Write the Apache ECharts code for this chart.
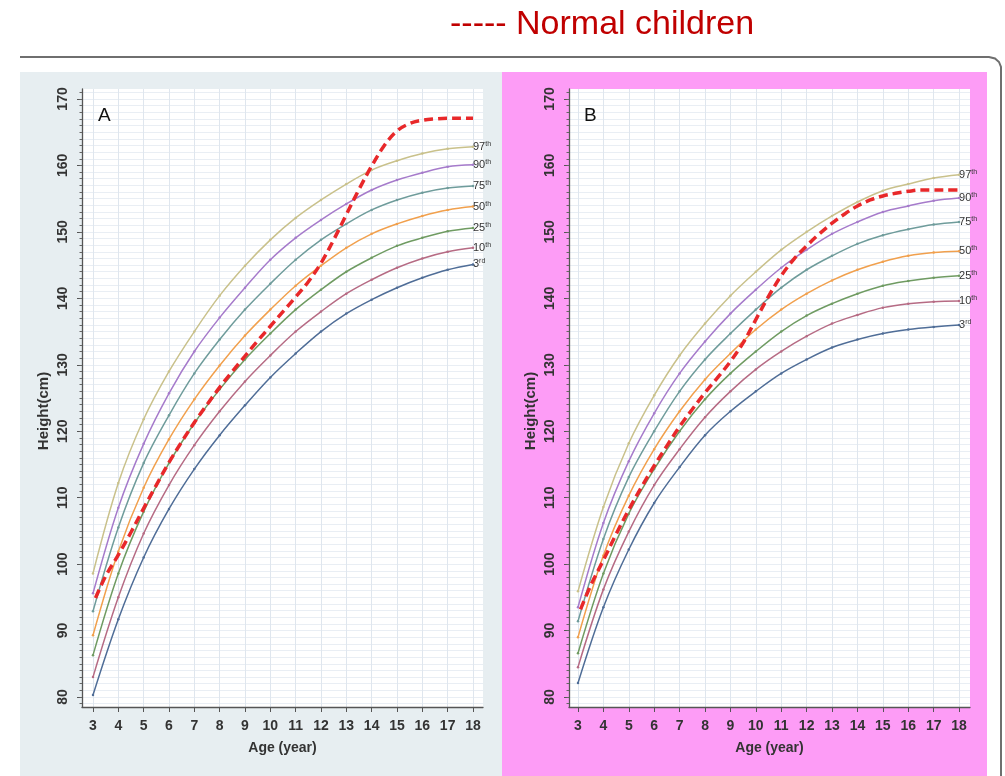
<!DOCTYPE html>
<html><head><meta charset="utf-8">
<script src="https://cdn.jsdelivr.net/npm/echarts@6/dist/echarts.min.js"></script>
<style>html,body{margin:0;padding:0;background:#fff}#c{width:1005px;height:776px}</style>
</head><body><div id="c"></div>
<script>
// ---------- data ----------
const ages = [3,4,5,6,7,8,9,10,11,12,13,14,15,16,17,18];
const pctNames = ['97','90','75','50','25','10','3'];
const pctSup = ['th','th','th','th','th','th','rd'];

const A_p97 = [98.6,112.2,121.8,129.0,135.0,140.4,144.9,148.8,152.1,154.8,157.2,159.3,160.7,161.8,162.5,162.8];
const A_p90 = [95.6,108.5,118.1,125.7,132.0,137.1,141.6,145.8,149.1,151.8,154.2,156.3,157.8,158.9,159.8,160.1];
const A_p75 = [92.9,105.5,115.2,122.4,128.7,133.8,138.3,142.2,145.8,148.8,151.2,153.3,154.8,155.9,156.6,156.9];
const A_p50 = [89.3,101.9,111.5,118.8,124.8,129.9,134.4,138.3,141.9,144.9,147.6,149.7,151.2,152.4,153.3,153.8];
const A_p25 = [86.3,98.6,107.9,115.2,121.2,126.3,130.8,134.7,138.3,141.3,144.0,146.1,147.9,149.1,150.1,150.6];
const A_p10 = [83.0,95.0,104.6,111.9,117.9,123.0,127.5,131.4,135.0,138.0,140.7,142.8,144.6,146.0,147.0,147.6];
const A_p3  = [80.3,91.7,101.0,108.3,114.3,119.4,123.9,128.1,131.7,135.0,137.7,139.8,141.6,143.1,144.3,145.1];

const B_p97 = [95.9,108.6,118.2,125.4,131.4,136.2,140.4,144.0,147.3,150.0,152.4,154.5,156.2,157.2,158.1,158.6];
const B_p90 = [93.5,106.2,115.5,122.7,128.7,133.5,137.7,141.3,144.6,147.3,149.7,151.5,153.0,153.9,154.7,155.1];
const B_p75 = [91.4,103.8,113.1,120.0,126.0,130.8,134.7,138.3,141.6,144.3,146.4,148.2,149.5,150.4,151.1,151.5];
const B_p50 = [89.0,101.3,110.3,117.3,123.0,127.8,131.7,135.3,138.3,140.7,142.7,144.3,145.5,146.4,146.9,147.1];
const B_p25 = [86.6,98.6,107.6,114.3,120.0,124.8,128.7,132.0,135.0,137.4,139.2,140.7,141.9,142.6,143.1,143.4];
const B_p10 = [84.5,96.2,104.9,111.9,117.3,122.1,126.0,129.3,132.0,134.3,136.2,137.5,138.6,139.2,139.5,139.6];
const B_p3  = [82.1,93.5,102.2,109.2,114.6,119.4,123.0,126.0,128.7,130.8,132.6,133.8,134.7,135.3,135.7,136.0];

const redAges = [3.1,3.5,4,4.5,5,5.5,6,6.5,7,7.5,8,8.5,9,9.5,10,10.5,11,11.5,12,12.5,13,13.5,14,14.5,15,15.5,16,16.5,17,17.5,18];
const A_red = [94.9,98.2,101.4,104.8,108.4,111.9,115.3,118.4,121.3,124.0,126.6,129.0,131.3,133.6,135.8,138.0,140.2,142.5,145.3,148.8,152.6,156.4,159.9,163.0,165.2,166.3,166.8,167.0,167.1,167.1,167.1];
const B_red = [93.2,96.8,100.6,104.5,108.2,111.6,114.8,117.8,120.7,123.3,125.8,128.1,130.5,133.3,136.8,140.3,143.4,145.9,147.9,149.7,151.3,152.7,153.9,154.8,155.4,155.8,156.1,156.3,156.3,156.3,156.3];

const xTickLabels = [3,4,5,6,7,8,9,10,11,12,13,14,15,16,17,18];
const yTickLabels = [80,90,100,110,120,130,140,150,160,170];
const titleText = '----- Normal children';
const xName = 'Age (year)';
const yName = 'Height(cm)';
const panelLetters = ['A','B'];

// ---------- styling ----------
const colors = ['#c9c18b','#a67bcb','#6f9c9b','#f1a04d','#6f9b62','#b66b84','#4f6d97'];
const yMinorTicks = [];
for (let v = 79; v <= 171; v++) yMinorTicks.push(v);
const FONT = '"Liberation Sans", Arial, sans-serif';

const A_sets = [A_p97,A_p90,A_p75,A_p50,A_p25,A_p10,A_p3];
const B_sets = [B_p97,B_p90,B_p75,B_p50,B_p25,B_p10,B_p3];

const grids = [
  {left: 82, top: 89, width: 401, height: 618, xmin: 2.566, xmax: 18.395},
  {left: 569, top: 89, width: 401, height: 618, xmin: 2.646, xmax: 18.43}
];

function pctSeries(vals, i, gi) {
  return {
    type: 'line', xAxisIndex: gi, yAxisIndex: gi * 2,
    data: ages.map((a, k) => [a, vals[k]]),
    smooth: 0.35, symbol: 'circle', symbolSize: 2.5, showSymbol: true,
    lineStyle: {color: colors[i], width: 1.5},
    itemStyle: {color: colors[i]},
    endLabel: {
      show: true, distance: 0,
      formatter: '{n|' + pctNames[i] + '}{s|' + pctSup[i] + '}',
      rich: {
        n: {fontSize: 11, color: '#333', fontFamily: FONT, lineHeight: 13},
        s: {fontSize: 7, color: '#333', fontFamily: FONT, verticalAlign: 'top', lineHeight: 13}
      }
    },
    emphasis: {disabled: true}, z: 2
  };
}
function redSeries(vals, gi) {
  return {
    type: 'line', xAxisIndex: gi, yAxisIndex: gi * 2,
    data: redAges.map((a, k) => [a, vals[k]]),
    smooth: 0.35, symbol: 'none',
    lineStyle: {color: '#e8282a', width: 3.5, type: [9, 5]},
    emphasis: {disabled: true}, z: 3
  };
}

const series = [];
A_sets.forEach((s, i) => series.push(pctSeries(s, i, 0)));
series.push(redSeries(A_red, 0));
B_sets.forEach((s, i) => series.push(pctSeries(s, i, 1)));
series.push(redSeries(B_red, 1));

const xAxis = grids.map((g, gi) => ({
  type: 'value', gridIndex: gi, min: g.xmin, max: g.xmax,
  axisLine: {show: true, onZero: false, lineStyle: {color: '#555', width: 1.3}},
  axisTick: {show: true, customValues: xTickLabels, length: 5, lineStyle: {color: '#555'}},
  axisLabel: {customValues: xTickLabels, fontSize: 14, fontWeight: 'bold', color: '#333', fontFamily: FONT, margin: 12},
  splitLine: {show: true, lineStyle: {color: '#dfe6ee', width: 1}},
  name: xName, nameLocation: 'middle', nameGap: 34,
  nameTextStyle: {fontSize: 14, fontWeight: 'bold', color: '#333', fontFamily: FONT}
}));

const yAxis = [];
grids.forEach((g, gi) => {
  yAxis.push({
    type: 'value', gridIndex: gi, min: 78.5, max: 171.5, position: 'left',
    axisLine: {show: true, lineStyle: {color: '#555', width: 1.3}},
    axisTick: {show: true, customValues: yTickLabels, length: 5, lineStyle: {color: '#555'}},
    axisLabel: {customValues: yTickLabels, rotate: 90, fontSize: 14, fontWeight: 'bold', color: '#333', fontFamily: FONT, margin: 12},
    splitLine: {show: false},
    name: yName, nameLocation: 'middle', nameGap: 31, nameRotate: 90,
    nameTextStyle: {fontSize: 15, fontWeight: 'bold', color: '#333', fontFamily: FONT, padding: [0, 26, 0, 0]}
  });
  yAxis.push({
    type: 'value', gridIndex: gi, min: 78.5, max: 171.5, position: 'left',
    axisLine: {show: false},
    axisTick: {show: true, customValues: yMinorTicks, length: 2.5, lineStyle: {color: '#666'}},
    axisLabel: {show: false},
    splitLine: {show: true, lineStyle: {color: '#e9eef4', width: 1}}
  });
});

const chart = echarts.init(document.getElementById('c'), null, {renderer: 'canvas'});
chart.setOption({
  animation: false,
  backgroundColor: '#ffffff',
  grid: grids.map(g => ({left: g.left, top: g.top, width: g.width, height: g.height, show: true, backgroundColor: '#ffffff', borderWidth: 0, containLabel: false})),
  xAxis: xAxis,
  yAxis: yAxis,
  series: series,
  graphic: {elements: [
    {type: 'rect', z: -100, silent: true, shape: {x: 20, y: 72, width: 482, height: 704}, style: {fill: '#e7eef1'}},
    {type: 'rect', z: -100, silent: true, shape: {x: 502, y: 72, width: 485, height: 704}, style: {fill: '#fd9cf6'}},
    {type: 'polyline', z: -90, silent: true, shape: {points: [[20, 57], [989, 57], [995, 58.5], [999, 62], [1001, 67], [1001, 776]]}, style: {stroke: '#6f6f6f', lineWidth: 2, fill: null}},
    {type: 'text', z: 100, silent: true, x: 450, y: 8, style: {text: titleText, fill: '#c00000', font: '34px "Liberation Sans", Arial, sans-serif'}},
    {type: 'text', z: 100, silent: true, x: 98, y: 106, style: {text: panelLetters[0], fill: '#111', font: '19px "Liberation Sans", Arial, sans-serif'}},
    {type: 'text', z: 100, silent: true, x: 584, y: 106, style: {text: panelLetters[1], fill: '#111', font: '19px "Liberation Sans", Arial, sans-serif'}}
  ]}
});
</script>
</body></html>
